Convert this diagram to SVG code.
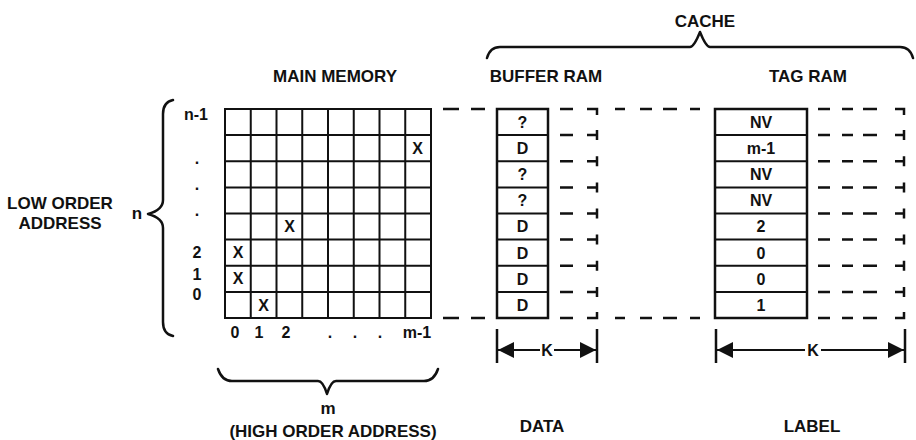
<svg xmlns="http://www.w3.org/2000/svg" width="916" height="440" viewBox="0 0 916 440">
<style>
text{font-family:"Liberation Sans",Arial,Helvetica,sans-serif;font-weight:bold;fill:#111}
.lbl{font-size:17px;text-anchor:middle}
.cell{font-size:16px;text-anchor:middle}
.idx{font-size:16px;text-anchor:middle}
.grid{fill:none;stroke:#111;stroke-width:2}
.box{fill:#fff;stroke:#111;stroke-width:2.5}
.dash{fill:none;stroke:#111;stroke-width:2.5}
.brace{fill:none;stroke:#111;stroke-width:2.5;stroke-linejoin:round;stroke-linecap:round}
.ar{fill:none;stroke:#111;stroke-width:2}
.bar{fill:none;stroke:#111;stroke-width:2.5}
</style>
<defs>
<marker id="ah" viewBox="0 0 10 10" refX="10" refY="5" markerWidth="16" markerHeight="19" markerUnits="userSpaceOnUse" orient="auto">
<path d="M0,0 L10,5 L0,10 Z" fill="#111"/>
</marker>
</defs>
<rect width="916" height="440" fill="#fff"/>

<g id="connectors">
<path class="dash" d="M443 109H459M471 109H485M560 109H573M587 109H597V115M615 109H625M640 109H652M663 109H677M690 109H700M818 109H830M842 109H853M863 109H877M895 109H904V115"/>
<path class="dash" d="M443 318H459M471 318H485M560 318H573M587 318H597V312M615 318H625M640 318H652M663 318H677M690 318H700M818 318H830M842 318H853M863 318H877M895 318H904V312"/>
<path class="dash" d="M560 135.1H573M587 135.1H597M597 130.1V140.1M560 161.25H573M587 161.25H597M597 156.25V166.25M560 187.4H573M587 187.4H597M597 182.4V192.4M560 213.5H573M587 213.5H597M597 208.5V218.5M560 239.6H573M587 239.6H597M597 234.6V244.6M560 265.75H573M587 265.75H597M597 260.75V270.75M560 291.9H573M587 291.9H597M597 286.9V296.9"/>
<path class="dash" d="M818 135.1H830M842 135.1H853M863 135.1H877M895 135.1H904M904 130.1V140.1M818 161.25H830M842 161.25H853M863 161.25H877M895 161.25H904M904 156.25V166.25M818 187.4H830M842 187.4H853M863 187.4H877M895 187.4H904M904 182.4V192.4M818 213.5H830M842 213.5H853M863 213.5H877M895 213.5H904M904 208.5V218.5M818 239.6H830M842 239.6H853M863 239.6H877M895 239.6H904M904 234.6V244.6M818 265.75H830M842 265.75H853M863 265.75H877M895 265.75H904M904 260.75V270.75M818 291.9H830M842 291.9H853M863 291.9H877M895 291.9H904M904 286.9V296.9"/>
</g>

<g id="main-memory">
<rect class="grid" x="225" y="109" width="206" height="209" stroke-width="2.5"/>
<path class="grid" d="M250.75 109V318M276.5 109V318M302.25 109V318M328 109V318M353.75 109V318M379.5 109V318M405.25 109V318M225 135.1H431M225 161.25H431M225 187.4H431M225 213.5H431M225 239.6H431M225 265.75H431M225 291.9H431"/>
<text class="cell" x="417.5" y="154">X</text>
<text class="cell" x="289.5" y="232">X</text>
<text class="cell" x="238" y="258">X</text>
<text class="cell" x="238" y="284">X</text>
<text class="cell" x="263.5" y="310.5">X</text>
</g>

<g id="buffer-ram">
<rect class="box" x="497" y="109" width="51" height="209"/>
<path class="grid" d="M497 135.1H548M497 161.25H548M497 187.4H548M497 213.5H548M497 239.6H548M497 265.75H548M497 291.9H548"/>
<text class="cell" x="522.5" y="127.8">?</text>
<text class="cell" x="522.5" y="154">D</text>
<text class="cell" x="522.5" y="180.1">?</text>
<text class="cell" x="522.5" y="206.2">?</text>
<text class="cell" x="522.5" y="232.3">D</text>
<text class="cell" x="522.5" y="258.5">D</text>
<text class="cell" x="522.5" y="284.6">D</text>
<text class="cell" x="522.5" y="310.7">D</text>
</g>

<g id="tag-ram">
<rect class="box" x="715" y="109" width="92" height="209"/>
<path class="grid" d="M715 135.1H807M715 161.25H807M715 187.4H807M715 213.5H807M715 239.6H807M715 265.75H807M715 291.9H807"/>
<text class="cell" x="761" y="127.8">NV</text>
<text class="cell" x="761" y="154">m-1</text>
<text class="cell" x="761" y="180.1">NV</text>
<text class="cell" x="761" y="206.2">NV</text>
<text class="cell" x="761" y="232.3">2</text>
<text class="cell" x="761" y="258.5">0</text>
<text class="cell" x="761" y="284.6">0</text>
<text class="cell" x="761" y="310.7">1</text>
</g>

<g id="row-labels">
<text class="idx" x="196" y="120">n-1</text>
<text class="idx" x="197" y="164">.</text>
<text class="idx" x="197" y="190">.</text>
<text class="idx" x="197" y="216">.</text>
<text class="idx" x="197" y="258">2</text>
<text class="idx" x="197" y="280">1</text>
<text class="idx" x="197" y="300">0</text>
</g>

<g id="col-labels">
<text class="idx" x="235" y="338">0</text>
<text class="idx" x="259" y="338">1</text>
<text class="idx" x="286" y="338">2</text>
<text class="idx" x="330" y="338">.</text>
<text class="idx" x="355" y="338">.</text>
<text class="idx" x="380" y="338">.</text>
<text class="idx" x="417" y="338">m-1</text>
</g>

<g id="low-order-brace">
<path class="brace" d="M173 100Q163 102 163 114V200Q163 210 148 214Q163 218 163 228V322Q163 334 173 336"/>
<text class="lbl" x="137" y="219" font-size="15">n</text>
<text class="lbl" x="60" y="209">LOW ORDER</text>
<text class="lbl" x="60" y="229">ADDRESS</text>
</g>

<g id="high-order-brace">
<path class="brace" d="M218 369Q222 381 232 381H318Q323 381 327 394Q331 381 336 381H424Q434 381 438 369"/>
<text class="lbl" x="328" y="414">m</text>
<text class="lbl" x="333" y="437">(HIGH ORDER ADDRESS)</text>
</g>

<g id="cache-brace">
<path class="brace" d="M487 58Q490 47 500 47H690Q694 47 700 32Q706 47 710 47H900Q910 47 913 58"/>
<text class="lbl" x="705" y="27">CACHE</text>
</g>

<g id="headings">
<text class="lbl" x="335" y="82">MAIN MEMORY</text>
<text class="lbl" x="546" y="82">BUFFER RAM</text>
<text class="lbl" x="808" y="82">TAG RAM</text>
</g>

<g id="data-width">
<path class="bar" d="M497 329V363M597 329V363"/>
<path class="ar" d="M540 350H498" marker-end="url(#ah)"/>
<path class="ar" d="M554 350H596" marker-end="url(#ah)"/>
<text class="cell" x="547" y="355.5" font-size="14">K</text>
<text class="lbl" x="542" y="432">DATA</text>
</g>

<g id="label-width">
<path class="bar" d="M716 329V363M905 329V363"/>
<path class="ar" d="M805 350H717" marker-end="url(#ah)"/>
<path class="ar" d="M821 350H904" marker-end="url(#ah)"/>
<text class="cell" x="813" y="355.5" font-size="14">K</text>
<text class="lbl" x="812" y="432">LABEL</text>
</g>
</svg>
